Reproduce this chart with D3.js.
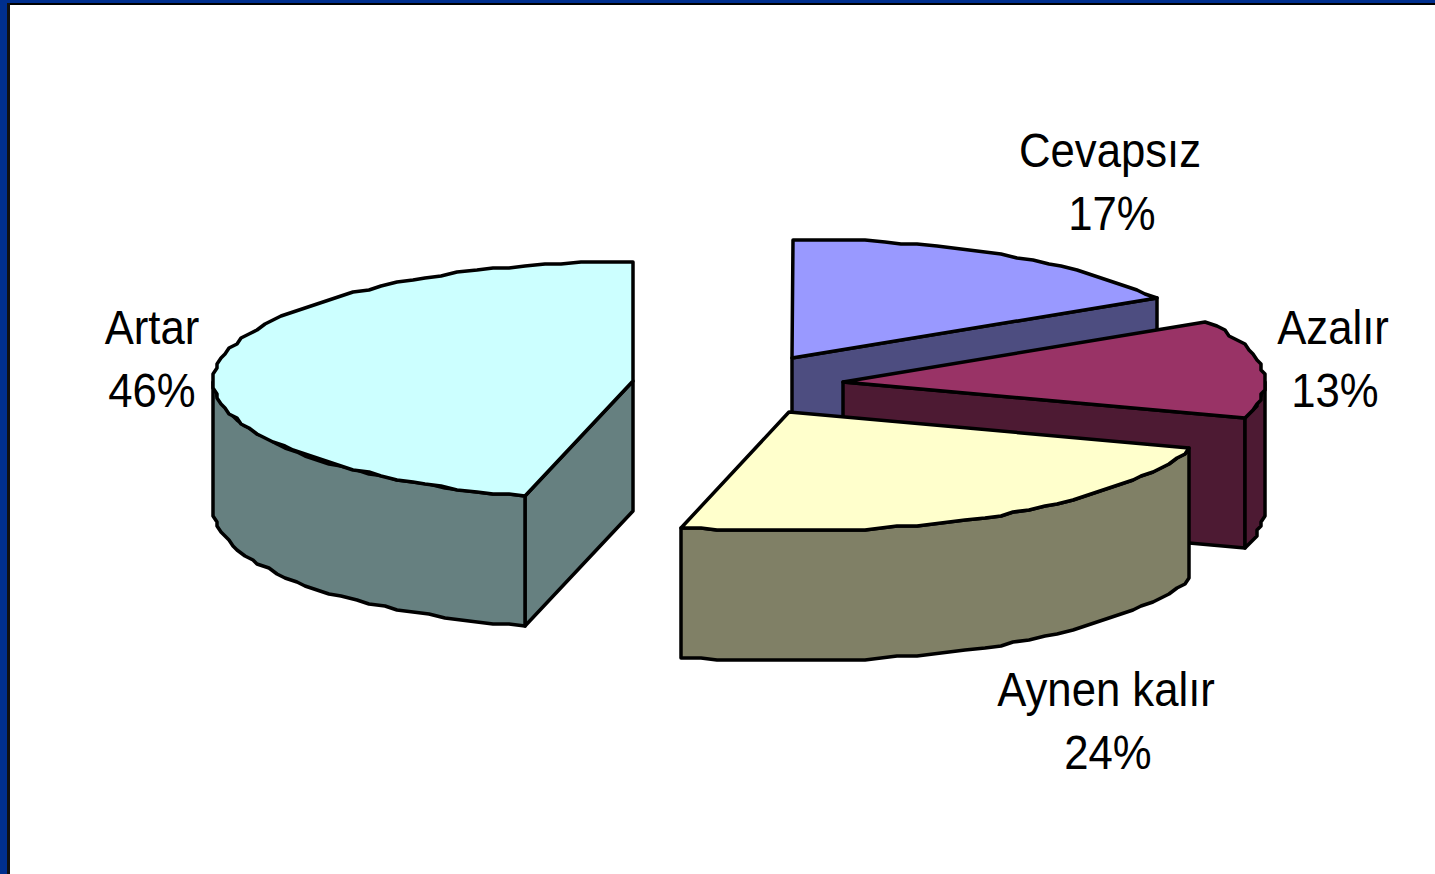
<!DOCTYPE html>
<html><head><meta charset="utf-8">
<script src="https://cdn.jsdelivr.net/npm/d3@7/dist/d3.min.js"></script>
<style>html,body{margin:0;padding:0;background:#fff;overflow:hidden}svg{display:block}</style>
</head><body><div id="c"></div>
<script>
const categories = ["Cevapsız","Azalır","Aynen kalır","Artar"];
const shares = [16.6,13.4,24.1,45.9];
const percentLabels = ["17%","13%","24%","46%"];
const topColors = ["#9999FF","#993366","#FFFFCC","#CCFFFF"];
const sideColors = ["#4D4D80","#4D1A33","#808066","#668080"];
const apexX = [792,843,789,633];
const apexY = [358,382,412,381];
const labelX = [1110,1333,1106,152];
const labelY = [167,344,706,344];
const percentX = [1112,1335,1108,152];

const W=1435,H=874,RX=420,RY=119,DEPTH=130,GX=4,GY=2;
const svg=d3.select("#c").append("svg").attr("width",W).attr("height",H);
svg.append("rect").attr("width",W).attr("height",H).attr("fill","#fff");

const pie=d3.pie().sort(null).value(d=>d);
const arcs=pie(shares);
const ang=d3.scaleLinear().domain([0,1]);
const line=d3.line();
const close=p=>line(p)+"Z";

// Projection of a point on a tilted rim; coarse grid gives the source's stepped outline
const rim=(i,a,dz=0)=>{
  const x=apexX[i]+RX*Math.sin(a), y=apexY[i]-RY*Math.cos(a);
  return [Math.round(x/GX)*GX+1, Math.round(y/GY)*GY+dz];
};
const arcPts=(i,a0,a1,dz=0)=>{
  const n=Math.max(2,Math.ceil(Math.abs(a1-a0)/(Math.PI/72)));
  ang.range([a0,a1]);
  return d3.range(n+1).map(k=>rim(i,ang(k/n),dz));
};

const g=svg.append("g").attr("stroke","#000").attr("stroke-width",3.5).attr("stroke-linejoin","round");
const FRONT0=Math.PI/2, FRONT1=Math.PI*1.5;

arcs.forEach((d,i)=>{
  const a0=d.startAngle,a1=d.endAngle;
  const A=[apexX[i],apexY[i]];
  const sl=g.append("g").datum(d);
  // cut face on the radius that faces the viewer
  if(i===0||i===1||i===3){
    const e=rim(i,i===3?a0:a1);
    sl.append("path").attr("fill",sideColors[i])
      .attr("d",close([A,e,[e[0],e[1]+DEPTH],[A[0],A[1]+DEPTH]]));
  }
  // outer wall, front-facing part
  const w0=Math.max(a0,FRONT0),w1=Math.min(a1,FRONT1);
  if(w1>w0){
    const top=arcPts(i,w0,w1), bot=arcPts(i,w1,w0,DEPTH);
    sl.append("path").attr("fill",sideColors[i]).attr("d",close(top.concat(bot)));
  }
  // top face
  sl.append("path").attr("fill",topColors[i])
    .attr("d",close([A].concat(arcPts(i,a0,a1))));
});

// labels
const lab=svg.append("g").attr("font-family","'Liberation Sans',Arial,sans-serif")
  .attr("font-size",48).attr("text-anchor","middle").attr("fill","#000");
categories.forEach((c,i)=>{
  lab.append("text").attr("transform",`translate(${labelX[i]},${labelY[i]}) scale(0.91,1)`).text(c);
  lab.append("text").attr("transform",`translate(${percentX[i]},${labelY[i]+63}) scale(0.91,1)`).text(percentLabels[i]);
});

// slide frame
const fr=svg.append("g");
fr.append("rect").attr("x",0).attr("y",0).attr("width",W).attr("height",3).attr("fill","#002F8E");
fr.append("rect").attr("x",0).attr("y",0).attr("width",7).attr("height",H).attr("fill","#002F8E");
fr.append("rect").attr("x",7).attr("y",3).attr("width",W-7).attr("height",2).attr("fill","#000");
fr.append("rect").attr("x",7).attr("y",3).attr("width",3).attr("height",H-3).attr("fill","#111");
</script></body></html>
